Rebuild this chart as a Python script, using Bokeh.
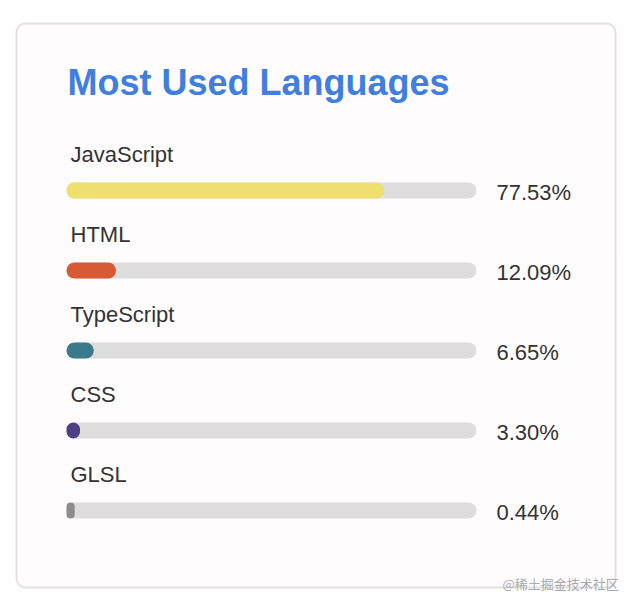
from bokeh.plotting import figure
from bokeh.models import Range1d, ColumnDataSource
from bokeh.core.properties import value
from bokeh.embed import file_html
from bokeh.resources import INLINE

# ---- data ----
languages = ["JavaScript", "HTML", "TypeScript", "CSS", "GLSL"]
percents = [77.53, 12.09, 6.65, 3.30, 0.44]
colors = ["#efdf6e", "#d85a35", "#3b798d", "#4f4186", "#8c8c8c"]
title_text = "Most Used Languages"
watermark_text = "@稀土掘金技术社区"

# ---- layout / style ----
W, H = 628, 592
TRACK_X0 = 66          # figure px where 0 % sits
PX_PER_PCT = 4.1       # track is 410 px wide
MIN_VISIBLE = 2.0      # minimum drawn width (percent) so tiny values stay visible


def px(x):
    return (x - TRACK_X0) / PX_PER_PCT


n = len(languages)
bar_y = [190 + 80 * i for i in range(n)]
label_y = [y - 36 for y in bar_y]
pct_y = [y + 2 for y in bar_y]

src = ColumnDataSource(dict(
    lang=languages,
    pct=percents,
    shown=[max(v, MIN_VISIBLE) for v in percents],
    pct_label=[f"{v:.2f}%" for v in percents],
    color=colors,
    y=bar_y,
    ly=label_y,
    py=pct_y,
    full=[100] * n,
    zero=[0] * n,
))

p = figure(width=W, height=H, output_backend="svg", toolbar_location=None,
           x_range=Range1d(px(0), px(W)), y_range=Range1d(H, 0),
           x_axis_type=None, y_axis_type=None, min_border=0)
p.outline_line_color = None
p.background_fill_color = "white"
p.border_fill_color = "white"

# card
p.quad(left=[px(16)], right=[px(615)], top=[23], bottom=[587],
       fill_color="#fffcfd", line_color="#e2e0e0", line_width=2, border_radius=9)

# title
p.text(x=[px(67)], y=[82], text=[title_text], text_font=value("Liberation Sans"),
       text_font_size="36px", text_font_style="bold", text_color="#407fde",
       text_baseline="alphabetic")

# tracks
p.hbar(y="y", left="zero", right="full", height=16, source=src,
       fill_color="#dddddd", line_color=None, border_radius=8)
# fills
p.hbar(y="y", left="zero", right="shown", height=16, source=src,
       fill_color="color", line_color=None, border_radius=8)

# language labels
p.text(x=px(70), y="ly", text="lang", source=src, text_font=value("Liberation Sans"),
       text_font_size="22px", text_color="#333333", text_baseline="alphabetic")
# percentages
p.text(x=px(496), y="py", text="pct_label", source=src, text_font=value("Liberation Sans"),
       text_font_size="22px", text_color="#333333", text_baseline="alphabetic")

# watermark
p.text(x=[px(502)], y=[583], text=[watermark_text], text_font=value("Noto Sans CJK SC"),
       text_font_size="13px", text_color="#aaaaaa", text_baseline="middle")

open("out.html", "w").write(file_html(p, INLINE))
